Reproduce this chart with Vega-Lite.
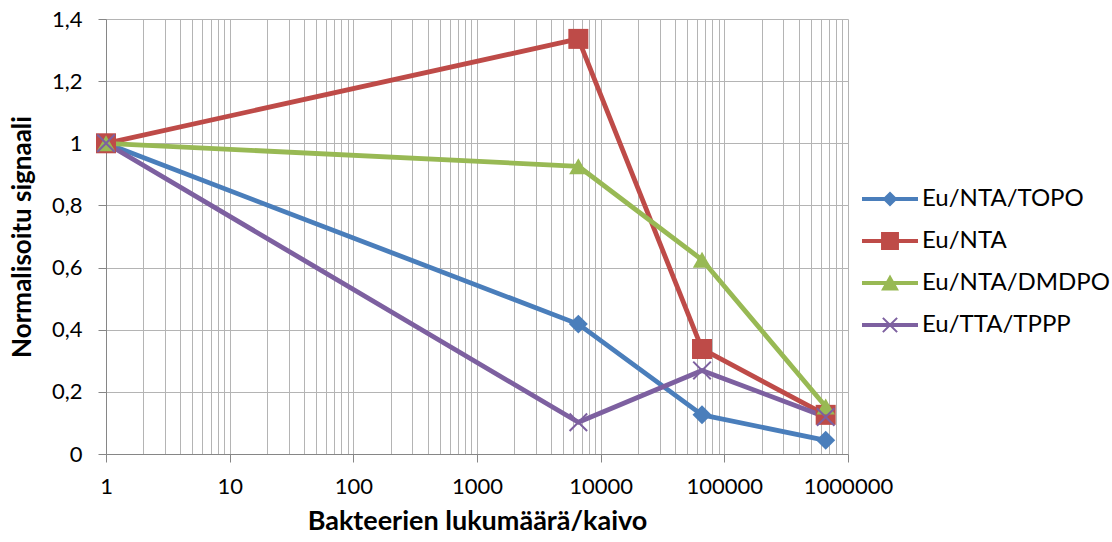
{
  "$schema": "https://vega.github.io/schema/vega-lite/v6.json",
  "autosize": {"type": "none"},
  "padding": {"left": 106, "top": 19, "right": 264, "bottom": 88},
  "width": 742,
  "height": 435,
  "background": "white",
  "config": {"view": {"stroke": null}, "font": "Lato"},
  "data": {
    "values": [
      {"sarja": "Eu/NTA/TOPO", "bakteerit": 1, "signaali": 1},
      {"sarja": "Eu/NTA/TOPO", "bakteerit": 6600, "signaali": 0.418},
      {"sarja": "Eu/NTA/TOPO", "bakteerit": 66000, "signaali": 0.126},
      {"sarja": "Eu/NTA/TOPO", "bakteerit": 660000, "signaali": 0.044},
      {"sarja": "Eu/NTA", "bakteerit": 1, "signaali": 1},
      {"sarja": "Eu/NTA", "bakteerit": 6600, "signaali": 1.336},
      {"sarja": "Eu/NTA", "bakteerit": 66000, "signaali": 0.338},
      {"sarja": "Eu/NTA", "bakteerit": 660000, "signaali": 0.126},
      {"sarja": "Eu/NTA/DMDPO", "bakteerit": 1, "signaali": 1},
      {"sarja": "Eu/NTA/DMDPO", "bakteerit": 6600, "signaali": 0.926},
      {"sarja": "Eu/NTA/DMDPO", "bakteerit": 66000, "signaali": 0.625},
      {"sarja": "Eu/NTA/DMDPO", "bakteerit": 660000, "signaali": 0.153},
      {"sarja": "Eu/TTA/TPPP", "bakteerit": 1, "signaali": 1},
      {"sarja": "Eu/TTA/TPPP", "bakteerit": 6600, "signaali": 0.102},
      {"sarja": "Eu/TTA/TPPP", "bakteerit": 66000, "signaali": 0.269},
      {"sarja": "Eu/TTA/TPPP", "bakteerit": 660000, "signaali": 0.119}
    ]
  },
  "encoding": {
    "x": {
      "field": "bakteerit",
      "type": "quantitative",
      "scale": {"type": "log", "domain": [1, 1000000], "nice": false},
      "axis": {
        "title": "Bakteerien lukumäärä/kaivo",
        "values": [1,2,3,4,5,6,7,8,9,10,20,30,40,50,60,70,80,90,100,200,300,400,500,600,700,800,900,1000,2000,3000,4000,5000,6000,7000,8000,9000,10000,20000,30000,40000,50000,60000,70000,80000,90000,100000,200000,300000,400000,500000,600000,700000,800000,900000,1000000],
        "format": "d",
        "labelExpr": "indexof([1,10,100,1000,10000,100000,1000000], datum.value) >= 0 ? datum.label : ''",
        "tickOpacity": {"condition": {"test": "indexof([1,10,100,1000,10000,100000,1000000], datum.value) >= 0", "value": 1}, "value": 0},
        "grid": true,
        "gridColor": "#b4b4b4",
        "gridWidth": 1,
        "domainColor": "#868686",
        "tickColor": "#868686",
        "tickSize": 8,
        "labelFontSize": 22,
        "labelColor": "#000000",
        "labelPadding": 14,
        "labelFlush": false,
        "labelOverlap": false,
        "titleFontSize": 27,
        "titleFontWeight": "bold",
        "titleColor": "#000000",
        "titlePadding": 11
      }
    },
    "y": {
      "field": "signaali",
      "type": "quantitative",
      "scale": {"domain": [0, 1.4], "nice": false},
      "axis": {
        "title": "Normalisoitu signaali",
        "values": [0, 0.2, 0.4, 0.6, 0.8, 1, 1.2, 1.4],
        "labelExpr": "replace(format(datum.value, '.1~f'), '.', ',')",
        "grid": true,
        "gridColor": "#b4b4b4",
        "gridWidth": 1,
        "domainColor": "#868686",
        "tickColor": "#868686",
        "tickSize": 8,
        "labelFontSize": 22,
        "labelColor": "#000000",
        "labelPadding": 16,
        "labelFlush": false,
        "titleFontSize": 26,
        "titleFontWeight": "bold",
        "titleColor": "#000000",
        "titlePadding": 16
      }
    },
    "color": {
      "field": "sarja",
      "type": "nominal",
      "scale": {
        "domain": ["Eu/NTA/TOPO", "Eu/NTA", "Eu/NTA/DMDPO", "Eu/TTA/TPPP"],
        "range": ["#4a7ebb", "#be4b48", "#98b954", "#7d60a0"]
      },
      "legend": {"title": null, "orient": "none", "legendX": 756, "legendY": 152, "symbolSize": 3136, "labelFontSize": 24, "labelColor": "#000000", "labelOffset": 4, "labelLimit": 400, "padding": 0, "symbolStrokeWidth": 0}
    }
  },
  "layer": [
    {"mark": {"type": "line", "strokeWidth": 4.8, "strokeJoin": "round"}},
    {
      "transform": [{"filter": "datum.sarja === 'Eu/NTA/TOPO'"}],
      "mark": {"type": "point", "filled": true, "opacity": 1, "shape": "diamond", "size": 360}
    },
    {
      "transform": [{"filter": "datum.sarja === 'Eu/NTA'"}],
      "mark": {"type": "point", "filled": true, "opacity": 1, "shape": "square", "size": 400}
    },
    {
      "transform": [{"filter": "datum.sarja === 'Eu/NTA/DMDPO'"}],
      "mark": {"type": "point", "filled": true, "opacity": 1, "shape": "triangle-up", "size": 340}
    },
    {
      "transform": [{"filter": "datum.sarja === 'Eu/TTA/TPPP'"}],
      "mark": {"type": "point", "filled": true, "opacity": 1, "shape": "M0,-0.15L0.85,-1L1,-0.85L0.15,0L1,0.85L0.85,1L0,0.15L-0.85,1L-1,0.85L-0.15,0L-1,-0.85L-0.85,-1Z", "size": 360}
    },
    {
      "mark": {"type": "point", "filled": true, "opacity": 1, "size": 0},
      "encoding": {
        "shape": {
          "field": "sarja",
          "type": "nominal",
          "scale": {
            "domain": ["Eu/NTA/TOPO", "Eu/NTA", "Eu/NTA/DMDPO", "Eu/TTA/TPPP"],
            "range": [
              "M-1,-0.075L1,-0.075L1,0.075L-1,0.075Z M0,-0.27L0.27,0L0,0.27L-0.27,0Z",
              "M-1,-0.075L1,-0.075L1,0.075L-1,0.075Z M-0.32,-0.32L0.32,-0.32L0.32,0.32L-0.32,0.32Z",
              "M-1,-0.075L1,-0.075L1,0.075L-1,0.075Z M0,-0.3L0.32,0.27L-0.32,0.27Z",
              "M-1,-0.075L1,-0.075L1,0.075L-1,0.075Z M0,-0.05L0.23,-0.28L0.28,-0.23L0.05,0L0.28,0.23L0.23,0.28L0,0.05L-0.23,0.28L-0.28,0.23L-0.05,0L-0.28,-0.23L-0.23,-0.28Z"
            ]
          },
          "legend": {"title": null, "orient": "none", "legendX": 756, "legendY": 152, "symbolSize": 3136, "labelFontSize": 24, "labelColor": "#000000", "labelOffset": 4, "labelLimit": 400, "padding": 0, "symbolStrokeWidth": 0}
        }
      }
    }
  ]
}
